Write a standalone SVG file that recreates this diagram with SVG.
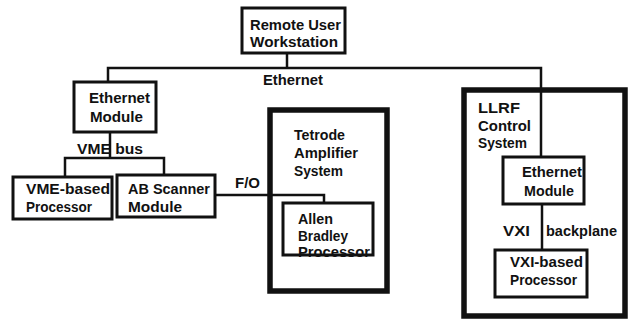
<svg xmlns="http://www.w3.org/2000/svg" width="631" height="324" viewBox="0 0 631 324">
<style>
.box{fill:#fff;stroke:#111;stroke-width:3}
.thick{fill:#fff;stroke:#111;stroke-width:5.5}
.ln{fill:none;stroke:#111;stroke-width:2.5}
text{font-family:"Liberation Sans",Arial,sans-serif;font-size:14px;fill:#111;font-weight:bold}
</style>
<rect width="631" height="324" fill="#fff"/>
<g id="tetrode">
<rect class="thick" x="270" y="110" width="117" height="181"/>
<text x="294" y="140" textLength="51" lengthAdjust="spacingAndGlyphs">Tetrode</text>
<text x="294" y="158" textLength="64" lengthAdjust="spacingAndGlyphs">Amplifier</text>
<text x="294" y="176" textLength="49" lengthAdjust="spacingAndGlyphs">System</text>
</g>
<g id="llrf">
<rect class="thick" x="464" y="90" width="161" height="226"/>
<text x="478" y="113" textLength="42" lengthAdjust="spacingAndGlyphs">LLRF</text>
<text x="478" y="131" textLength="53" lengthAdjust="spacingAndGlyphs">Control</text>
<text x="478" y="148" textLength="49" lengthAdjust="spacingAndGlyphs">System</text>
</g>
<g id="connectors">
<polyline class="ln" points="287,53 287,68"/>
<polyline class="ln" points="108,81 108,68 541,68 541,157"/>
<polyline class="ln" points="110,132 110,158"/>
<polyline class="ln" points="65,176 65,158 164,158 164,175"/>
<polyline class="ln" points="215,195 324,195 324,203"/>
<polyline class="ln" points="542,204 542,250"/>
<text x="263" y="85" textLength="60" lengthAdjust="spacingAndGlyphs">Ethernet</text>
<text x="77" y="154" textLength="66" lengthAdjust="spacingAndGlyphs">VME bus</text>
<text x="235" y="188" textLength="25" lengthAdjust="spacingAndGlyphs">F/O</text>
<text x="503" y="236" textLength="27" lengthAdjust="spacingAndGlyphs">VXI</text>
<text x="546" y="236" textLength="71" lengthAdjust="spacingAndGlyphs">backplane</text>
</g>
<g id="remote">
<rect class="box" x="242" y="8" width="103" height="45"/>
<text x="250" y="30" textLength="91" lengthAdjust="spacingAndGlyphs">Remote User</text>
<text x="250" y="47" textLength="88" lengthAdjust="spacingAndGlyphs">Workstation</text>
</g>
<g id="eth1">
<rect class="box" x="74" y="82" width="82" height="50"/>
<text x="89" y="103" textLength="61" lengthAdjust="spacingAndGlyphs">Ethernet</text>
<text x="90" y="122" textLength="53" lengthAdjust="spacingAndGlyphs">Module</text>
</g>
<g id="vme">
<rect class="box" x="13" y="177" width="99" height="42"/>
<text x="26" y="194" textLength="84" lengthAdjust="spacingAndGlyphs">VME-based</text>
<text x="26" y="212" textLength="66" lengthAdjust="spacingAndGlyphs">Processor</text>
</g>
<g id="ab">
<rect class="box" x="117" y="175" width="98" height="42"/>
<text x="128" y="194" textLength="82" lengthAdjust="spacingAndGlyphs">AB Scanner</text>
<text x="128" y="212" textLength="54" lengthAdjust="spacingAndGlyphs">Module</text>
</g>
<g id="allen">
<rect class="box" x="283" y="203" width="90" height="52"/>
<text x="298" y="224" textLength="35" lengthAdjust="spacingAndGlyphs">Allen</text>
<text x="298" y="241" textLength="50" lengthAdjust="spacingAndGlyphs">Bradley</text>
<text x="298" y="257" textLength="72" lengthAdjust="spacingAndGlyphs">Processor</text>
</g>
<g id="eth2">
<rect class="box" x="503" y="157" width="81" height="47"/>
<text x="522" y="177" textLength="60" lengthAdjust="spacingAndGlyphs">Ethernet</text>
<text x="524" y="196" textLength="50" lengthAdjust="spacingAndGlyphs">Module</text>
</g>
<g id="vxi">
<rect class="box" x="495" y="250" width="92" height="47"/>
<text x="510" y="267" textLength="73" lengthAdjust="spacingAndGlyphs">VXI-based</text>
<text x="510" y="285" textLength="67" lengthAdjust="spacingAndGlyphs">Processor</text>
</g>
</svg>
